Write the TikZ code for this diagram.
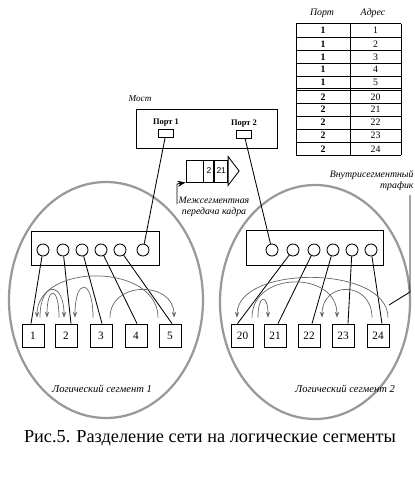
\documentclass[tikz,border=0pt]{standalone}
\usepackage{fontspec}
\setmainfont{Liberation Serif}
\setsansfont{Liberation Sans}
\usetikzlibrary{arrows.meta, positioning, calc}

\begin{document}
\begin{tikzpicture}[x=0.025cm, y=-0.025cm, >=Stealth, line width=0.6pt,
      dev/.style={draw, minimum width=0.55cm, minimum height=0.575cm, inner sep=0pt,
                  font=\fontsize{8}{8}\selectfont},
      hub/.style={draw, minimum height=0.87cm},
      jack/.style={draw, circle, minimum size=0.3cm, inner sep=0pt},
      sock/.style={draw, minimum width=0.36cm, minimum height=0.2cm, inner sep=0pt},
      cell/.style={draw, minimum height=0.55cm, inner sep=0pt,
                   font=\sffamily\fontsize{6}{6}\selectfont},
      seg/.style={draw=black!40, line width=1.6pt},
      traf/.style={draw=black!60, line width=0.5pt, -{Stealth[length=4pt, width=3pt]}},
      lbl/.style={font=\itshape\fontsize{7}{7.8}\selectfont, inner sep=0pt, align=center},
      tab/.style={font=\fontsize{7}{7}\selectfont, inner sep=0pt}]

    \useasboundingbox (0,0) rectangle (415,481);

    % logical segments
    \draw[seg] (106,300) ellipse [x radius=97, y radius=118];
    \draw[seg] (315,302) ellipse [x radius=95, y radius=117];

    % address table
    \node[tab, font=\itshape\fontsize{7}{7}\selectfont] (hport) at (322,13) {Порт};
    \node[tab, font=\itshape\fontsize{7}{7}\selectfont] (hadr)  at (373,13) {Адрес};
    \foreach \y in {23.5,37.5,50.5,63.3,76,88.3,90.8,103.3,116,129,142.3,155.3}
      \draw (296,\y) -- (401,\y);
    \foreach \x in {296,350,401}
      \draw (\x,23.5) -- (\x,155.3);
    \foreach \p/\a/\y in {1/1/30.5, 1/2/44, 1/3/56.9, 1/4/69.6, 1/5/82.1,
                          2/20/97, 2/21/109.6, 2/22/122.5, 2/23/135.6, 2/24/148.8} {
      \node[tab] (tp\a) at (323,\y) {\textbf{\p}};
      \node[tab] (ta\a) at (375.5,\y) {\a};
    }

    % bridge
    \node[lbl, font=\itshape\fontsize{6.5}{7}\selectfont] (most) at (140,99) {Мост};
    \node[draw, minimum width=3.525cm, minimum height=0.975cm] (bridge) at (206.5,128.5) {};
    \node[sock] (s1) at (166,133) {};
    \node[sock] (s2) at (244,134) {};
    \node[above=1.5pt of s1, inner sep=0pt, font=\bfseries\fontsize{6}{6}\selectfont] (ls1) {Порт 1};
    \node[above=1.5pt of s2, inner sep=0pt, font=\bfseries\fontsize{6}{6}\selectfont] (ls2) {Порт 2};

    % frame passing between segments
    \node[cell, minimum width=0.425cm] (f0) at (194.5,171) {};
    \node[cell, minimum width=0.25cm, right=0pt of f0] (f1) {2};
    \node[cell, minimum width=0.325cm, right=0pt of f1] (f2) {21};
    \draw ($(f2.north east)+(0,-3)$) -- ($(f2.east)+(11,0)$) -- ($(f2.south east)+(0,3)$) -- cycle;
    \node[lbl] (inter) at (214,207) {Межсегментная\\передача кадра};
    \coordinate (m0) at (177,204);
    \draw[->] (m0) -- ++(0,-20) -- (f0.south west);

    % hubs
    \node[hub, minimum width=3.2cm]   (hub1) at (95,248.5) {};
    \node[hub, minimum width=3.425cm] (hub2) at (314.5,248) {};
    \foreach \i/\x in {1/43,2/63,3/82,4/101,5/120,6/143}
      \node[jack] (p\i) at (\x,250) {};
    \foreach \i/\x in {1/272,2/293,3/314,4/333,5/352,6/371}
      \node[jack] (q\i) at (\x,250) {};

    % stations
    \foreach \t/\x in {1/33,2/66,3/101,4/136,5/170}
      \node[dev] (n\t) at (\x,335.5) {\t};
    \foreach \t/\x in {20/242.5,21/275,22/309,23/343,24/378}
      \node[dev] (n\t) at (\x,335.5) {\t};

    % cabling
    \draw (s1) -- (p6);
    \draw (s2) -- (q1);
    \foreach \i/\s in {1/-2,2/5,3/1,4/1,5/2}
      \draw (p\i) -- ($(n\i.north)+(\s,0)$);
    \foreach \i/\t/\s in {2/20/-5,3/21/3,4/22/3,5/23/5,6/24/4}
      \draw (q\i) -- ($(n\t.north)+(\s,0)$);

    % traffic inside the segments
    \foreach \a/\sa/\b/\sb/\h in {5/-12/1/4/55, 3/9/5/4/37, 1/7/2/-2/37,
                                  2/-7/1/14/32, 3/-8/2/9/40,
                                  24/10/20/-5.5/53, 20/9.5/23/-6/47,
                                  24/-6/22/13/37, 20/15.5/21/-7/24}
      \draw[traf] ($(n\a.north)+(\sa,-6)$) .. controls +(0,-\h) and +(0,-\h) .. ($(n\b.north)+(\sb,-6)$);

    \node[lbl, align=right, anchor=north east] (intra) at (414,170) {Внутрисегментный\\трафик};
    \coordinate (t0) at (410,195);
    \draw (t0) -- ++(0,97) -- ++(-21,13);

    % segment names and caption
    \node[lbl, font=\itshape\fontsize{7.5}{8}\selectfont] (seg1) at (102,389) {Логический сегмент 1};
    \node[lbl, font=\itshape\fontsize{7.5}{8}\selectfont] (seg2) at (345,389) {Логический сегмент 2};
    \node[font=\fontsize{13}{14}\selectfont] (cap) at (210,438) {Рис.5. Разделение сети на логические сегменты};

\end{tikzpicture}
\end{document}
